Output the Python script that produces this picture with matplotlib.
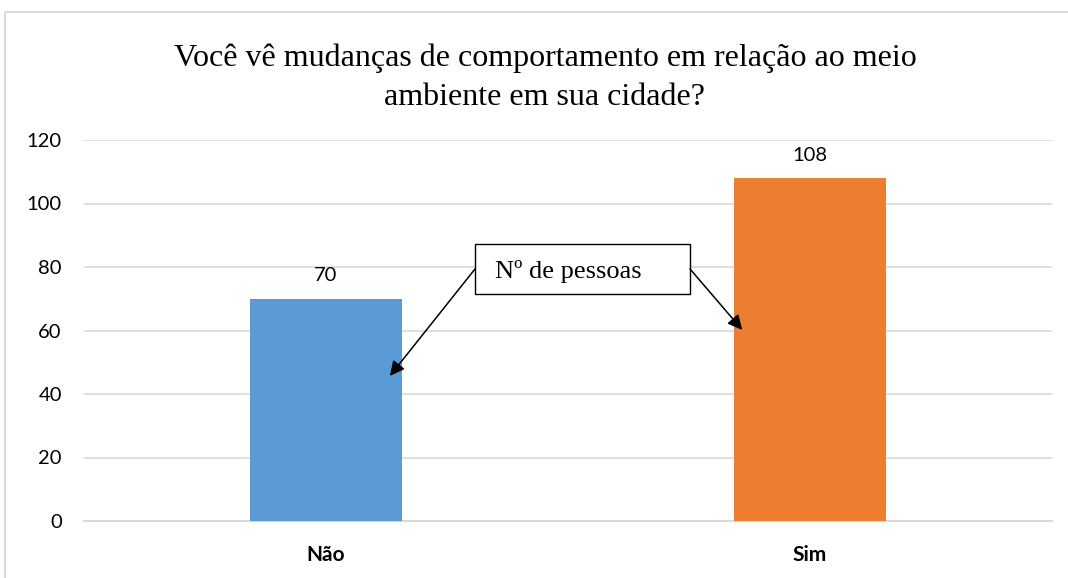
import numpy as np
import matplotlib.pyplot as plt
from matplotlib.patches import Rectangle

categorias = ['Não', 'Sim']
valores = [70, 108]
cores = ['#5B9BD5', '#ED7D31']
yticks = [0, 20, 40, 60, 80, 100, 120]

titulo = 'Você vê mudanças de comportamento em relação ao meio\nambiente em sua cidade?'
rotulo_caixa = 'Nº de pessoas'

fig = plt.figure(figsize=(10.68, 5.78), dpi=100)
ax = fig.add_axes([84 / 1068, 1 - 521 / 578, 968 / 1068, 381 / 578])

# borda do gráfico (recortada na imagem original)
fig.patches.append(Rectangle((5 / 1068, -0.1), 1.2, 1 - 12 / 578 + 0.1,
                             transform=fig.transFigure, fill=False,
                             edgecolor='#D9D9D9', lw=1.5))

x = np.arange(len(categorias))
barras = ax.bar(x, valores, width=0.314, color=cores, zorder=3)

for xi, v in zip(x, valores):
    ax.text(xi, v + 4.5, str(v), ha='center', va='bottom', fontsize=14.5,
            family='Lato', color='black')

ax.set_xlim(-0.5, 1.5)
ax.set_ylim(0, 120)
ax.set_yticks(yticks)
ax.set_yticklabels([str(t) for t in yticks], fontsize=14.5, family='Lato', color='black')
ax.set_xticks(x)
ax.set_xticklabels(categorias, fontsize=15, family='Lato', fontweight='bold', color='black')
ax.tick_params(axis='both', length=0)
ax.tick_params(axis='x', pad=17)
ax.tick_params(axis='y', pad=16)

ax.grid(axis='y', color='#D9D9D9', lw=1.2, zorder=0)
for s in ['top', 'right', 'left']:
    ax.spines[s].set_visible(False)
ax.spines['bottom'].set_color('#D9D9D9')
ax.spines['bottom'].set_linewidth(1.5)

fig.text(545 / 1068, 1 - 78 / 578, titulo, ha='center', va='center',
         fontsize=23, family='Liberation Serif', linespacing=1.45)

# caixa de texto com setas
ax.add_patch(Rectangle((0.308, 71.5), 0.444, 15.7, fc='white', ec='black',
                       lw=1, zorder=5))
ax.text(0.349, 78.7, rotulo_caixa, ha='left', va='center', fontsize=19,
        family='Liberation Serif', zorder=6)
seta = dict(arrowstyle='-|>', color='black', lw=1.1, mutation_scale=22,
            shrinkA=0, shrinkB=0)
ax.annotate('', xy=(0.132, 45.7), xytext=(0.308, 79.4), arrowprops=seta, zorder=6)
ax.annotate('', xy=(0.860, 60.2), xytext=(0.752, 79.4), arrowprops=seta, zorder=6)

fig.savefig('out.png', dpi=100)
